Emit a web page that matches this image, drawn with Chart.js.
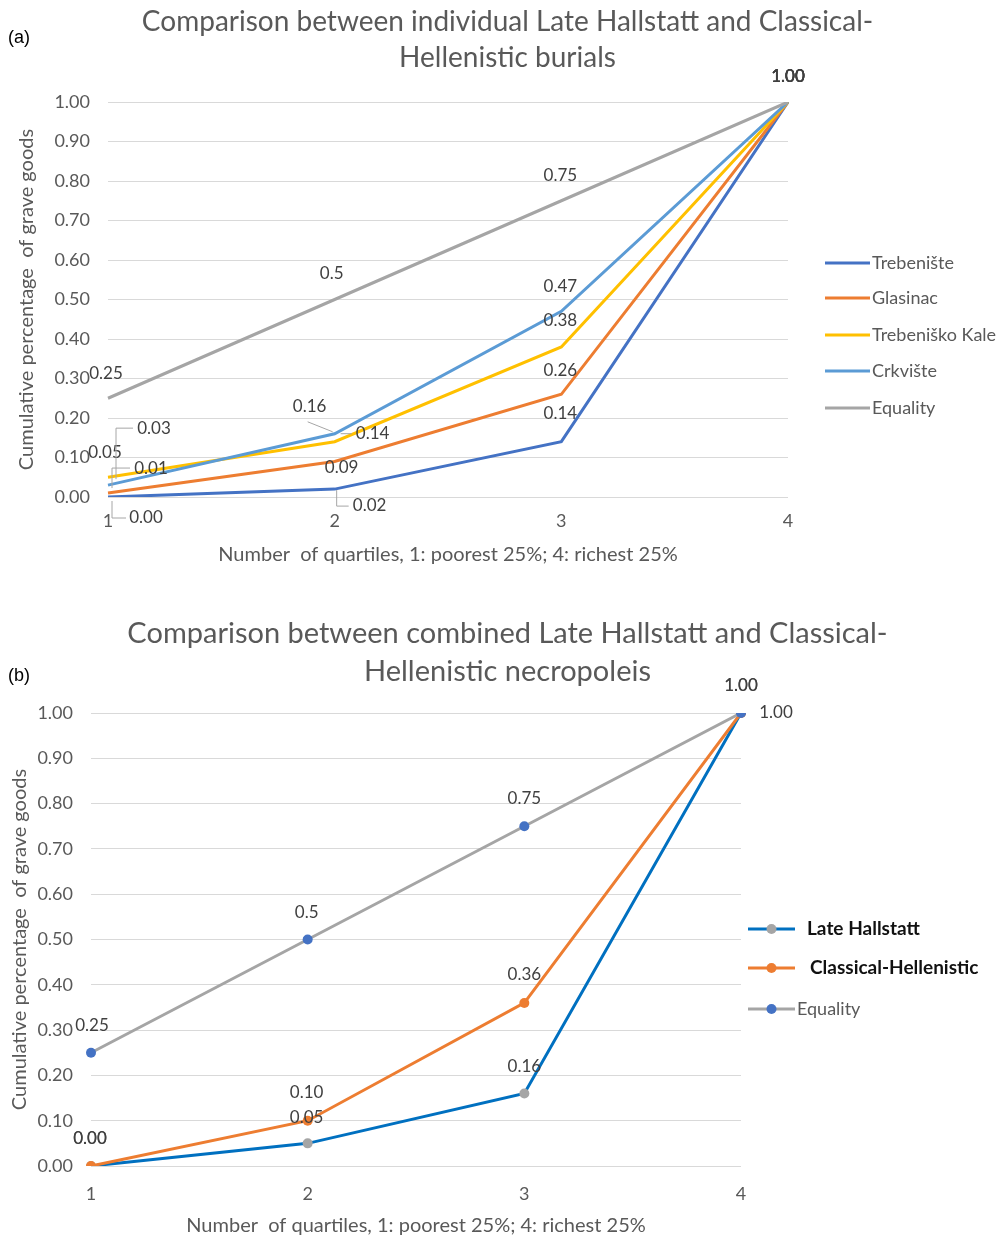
<!DOCTYPE html>
<html><head><meta charset="utf-8">
<script src="https://cdn.jsdelivr.net/npm/chart.js@4.4.0/dist/chart.umd.min.js"></script>
<style>
html,body{margin:0;padding:0;background:#fff;width:1007px;height:1239px;overflow:hidden}
.wrap{position:absolute;left:0;width:1007px}
#wa{top:0;height:590px}
#wb{top:600px;height:639px}
</style></head><body>
<div class="wrap" id="wa"><canvas id="ca"></canvas></div>
<div class="wrap" id="wb"><canvas id="cb"></canvas></div>
<script>
// ---- data ----
const quartiles = ['1', '2', '3', '4'];
const trebeniste = [0.00, 0.02, 0.14, 1.00];
const glasinac = [0.01, 0.09, 0.26, 1.00];
const trebeniskoKale = [0.05, 0.14, 0.38, 1.00];
const crkviste = [0.03, 0.16, 0.47, 1.00];
const equality = [0.25, 0.5, 0.75, 1.00];
const lateHallstatt = [0.00, 0.05, 0.16, 1.00];
const classicalHellenistic = [0.00, 0.10, 0.36, 1.00];
const titleA = ['Comparison between individual Late Hallstatt and Classical-', 'Hellenistic burials'];
const titleB = ['Comparison between combined Late Hallstatt and Classical-', 'Hellenistic necropoleis'];
const yTitle = 'Cumulative percentage  of grave goods';
const xTitle = 'Number  of quartiles, 1: poorest 25%; 4: richest 25%';

const FONT = "Lato, 'Open Sans', sans-serif";
const GREY = '#595959';
Chart.defaults.font.family = FONT;
Chart.defaults.color = GREY;

const fmt2 = v => v.toFixed(2);
const fmtEq = v => (v % 1 === 0 ? v.toFixed(2) : String(v));

function labelPlugin(cfg) {
  return {
    id: 'ptLabels' + cfg.tag,
    afterDatasetsDraw(chart) {
      const ctx = chart.ctx;
      ctx.save();
      ctx.font = cfg.font;
      ctx.textAlign = 'center';
      ctx.textBaseline = 'middle';
      cfg.sets.forEach(s => {
        const meta = chart.getDatasetMeta(s.ds);
        const data = chart.data.datasets[s.ds].data;
        s.pos.forEach((p, j) => {
          const el = meta.data[j];
          if (p[2]) {
            ctx.strokeStyle = '#a6a6a6';
            ctx.lineWidth = 1;
            ctx.beginPath();
            p[2].forEach((q, k) => {
              const X = el.x + q[0], Y = el.y + q[1];
              if (k) ctx.lineTo(X, Y); else ctx.moveTo(X, Y);
            });
            ctx.stroke();
          }
          ctx.fillStyle = cfg.color;
          ctx.fillText(s.fmt(data[j]), el.x + p[0], el.y + p[1]);
        });
      });
      ctx.restore();
    }
  };
}

function legendPlugin(cfg) {
  return {
    id: 'sideLegend' + cfg.tag,
    afterDraw(chart) {
      const ctx = chart.ctx;
      ctx.save();
      ctx.textBaseline = 'middle';
      ctx.textAlign = 'left';
      cfg.items.forEach(it => {
        const ds = chart.data.datasets[it.ds];
        ctx.strokeStyle = ds.borderColor;
        ctx.lineWidth = 3;
        ctx.beginPath();
        ctx.moveTo(cfg.x0, it.y);
        ctx.lineTo(cfg.x1, it.y);
        ctx.stroke();
        if (cfg.marker) {
          ctx.fillStyle = ds.pointBackgroundColor;
          ctx.beginPath();
          ctx.arc((cfg.x0 + cfg.x1) / 2, it.y, 5, 0, Math.PI * 2);
          ctx.fill();
        }
        ctx.font = it.font;
        ctx.fillStyle = it.color;
        ctx.fillText(ds.label, it.tx, it.y);
      });
      // panel tag
      ctx.font = "18px 'Liberation Sans', Arial, sans-serif";
      ctx.fillStyle = '#000';
      ctx.fillText(cfg.panel, 8, cfg.panelY);
      ctx.restore();
    }
  };
}

function baseOptions(o) {
  return {
    responsive: true,
    maintainAspectRatio: false,
    animation: false,
    layout: { padding: { left: 8, right: 0, top: 0, bottom: 0 } },
    plugins: {
      legend: { display: false },
      tooltip: { enabled: false },
      title: {
        display: true,
        text: o.title,
        color: GREY,
        font: { size: o.titleSize, weight: 'normal', lineHeight: o.titleLH },
        padding: { top: o.titlePadTop, bottom: o.titlePadBottom }
      }
    },
    scales: {
      x: {
        type: 'category',
        offset: false,
        grid: { display: false, drawTicks: false },
        border: { display: false },
        ticks: { color: GREY, font: { size: 18 }, padding: o.xTickPad, maxRotation: 0 },
        title: { display: true, text: xTitle, color: GREY, font: { size: 20 }, padding: { top: 0, bottom: o.xTitlePad } },
        afterFit: s => { s.height = o.xHeight; }
      },
      y: {
        type: 'linear',
        position: 'left',
        min: 0, max: 1,
        grid: { color: '#d9d9d9', lineWidth: 1, drawTicks: false },
        border: { display: false },
        ticks: { stepSize: 0.1, color: GREY, font: { size: 18 }, padding: 18, callback: v => v.toFixed(2) },
        title: { display: true, text: yTitle, color: GREY, font: { size: 20 }, padding: { top: o.yTitlePad, bottom: 0 } },
        afterFit: s => { s.width = o.yWidth; }
      },
      yR: {
        type: 'linear',
        position: 'right',
        display: true,
        grid: { display: false, drawTicks: false },
        border: { display: false },
        ticks: { display: false },
        afterFit: s => { s.width = o.rightWidth; }
      }
    }
  };
}

// ---- chart (a) ----
const dsA = [
  { label: 'Trebenište', data: trebeniste, borderColor: '#4472C4' },
  { label: 'Glasinac', data: glasinac, borderColor: '#ED7D31' },
  { label: 'Trebeniško Kale', data: trebeniskoKale, borderColor: '#FFC000' },
  { label: 'Crkvište', data: crkviste, borderColor: '#5B9BD5' },
  { label: 'Equality', data: equality, borderColor: '#A5A5A5' }
].map((d, i) => Object.assign(d, { borderWidth: 3, pointRadius: 0, tension: 0, fill: false, order: 4 - i, backgroundColor: d.borderColor }));

new Chart(document.getElementById('ca'), {
  type: 'line',
  data: { labels: quartiles, datasets: dsA },
  options: baseOptions({
    title: titleA, titleSize: 28, titleLH: 36 / 28, titlePadTop: 4, titlePadBottom: 26,
    xTickPad: 13, xTitlePad: 23, xHeight: 93, yTitlePad: 7, yWidth: 100, rightWidth: 219
  }),
  plugins: [
    labelPlugin({
      tag: 'a', font: '17px ' + FONT, color: '#404040',
      sets: [
        { ds: 0, fmt: fmt2, pos: [[38, 21, [[4, 4], [4, 21], [18, 21]]], [35, 16, [[2, 1], [2, 17], [14, 17]]], [-1, -28], [0, -25]] },
        { ds: 1, fmt: fmt2, pos: [[43, -25, [[4, -5], [4, -25], [22, -25]]], [7, 6], [-1, -24], [0, -25]] },
        { ds: 2, fmt: fmt2, pos: [[-3, -25], [38, -8, [[6, -8], [17, -8]]], [-1, -26], [0, -25]] },
        { ds: 3, fmt: fmt2, pos: [[46, -57, [[8, -6], [8, -57], [25, -57]]], [-25, -27, [[-2, -2], [-27, -12]]], [-1, -25], [0, -25]] },
        { ds: 4, fmt: fmtEq, pos: [[-2, -25], [-3, -26], [-1, -25], [0, -25]] }
      ]
    }),
    legendPlugin({
      tag: 'a', x0: 825, x1: 870, panel: '(a)', panelY: 38, marker: false,
      items: [
        { ds: 0, y: 263, tx: 872, font: '18px ' + FONT, color: GREY },
        { ds: 1, y: 298, tx: 872, font: '18px ' + FONT, color: GREY },
        { ds: 2, y: 335, tx: 872, font: '18px ' + FONT, color: GREY },
        { ds: 3, y: 371, tx: 872, font: '18px ' + FONT, color: GREY },
        { ds: 4, y: 408, tx: 872, font: '18px ' + FONT, color: GREY }
      ]
    })
  ]
});

// ---- chart (b) ----
const dsB = [
  { label: 'Late Hallstatt', data: lateHallstatt, borderColor: '#0070C0', pointBackgroundColor: '#A5A5A5' },
  { label: 'Classical-Hellenistic', data: classicalHellenistic, borderColor: '#ED7D31', pointBackgroundColor: '#ED7D31' },
  { label: 'Equality', data: equality, borderColor: '#A5A5A5', pointBackgroundColor: '#4472C4' }
].map((d, i) => Object.assign(d, { borderWidth: 3, pointRadius: 5, pointBorderWidth: 0, pointBorderColor: d.pointBackgroundColor, tension: 0, fill: false, order: 2 - i, backgroundColor: d.borderColor }));

new Chart(document.getElementById('cb'), {
  type: 'line',
  data: { labels: quartiles, datasets: dsB },
  options: baseOptions({
    title: titleB, titleSize: 29, titleLH: 38 / 29, titlePadTop: 15, titlePadBottom: 22,
    xTickPad: 17, xTitlePad: 1, xHeight: 73, yTitlePad: 0, yWidth: 83, rightWidth: 266
  }),
  plugins: [
    labelPlugin({
      tag: 'b', font: '17px ' + FONT, color: '#404040',
      sets: [
        { ds: 0, fmt: fmt2, pos: [[-1, -27], [-1, -26], [0, -27], [0, -27]] },
        { ds: 1, fmt: fmt2, pos: [[-1, -27], [-1, -28], [0, -28], [0, -27]] },
        { ds: 2, fmt: fmtEq, pos: [[1, -27], [-1, -27], [0, -28], [35, 0]] }
      ]
    }),
    legendPlugin({
      tag: 'b', x0: 748, x1: 795, panel: '(b)', panelY: 76, marker: true,
      items: [
        { ds: 0, y: 329, tx: 807, font: 'bold 19px ' + FONT, color: '#111' },
        { ds: 1, y: 368, tx: 810, font: 'bold 19px ' + FONT, color: '#111' },
        { ds: 2, y: 409, tx: 797, font: '18px ' + FONT, color: GREY }
      ]
    })
  ]
});
</script>
</body></html>
